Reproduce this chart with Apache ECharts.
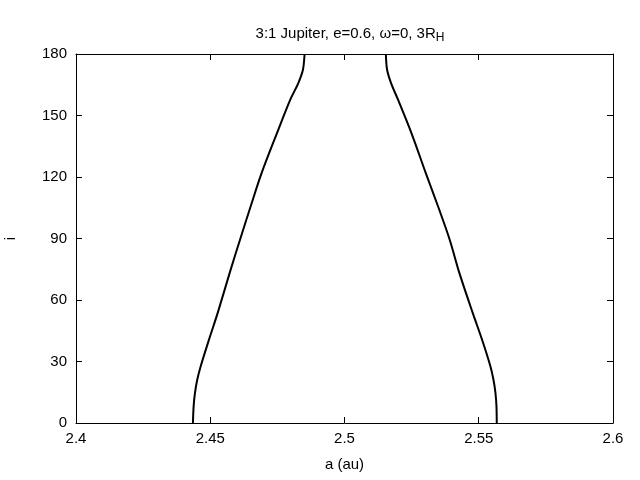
<!DOCTYPE html>
<html><head><meta charset="utf-8">
<script src="https://cdn.jsdelivr.net/npm/echarts@6/dist/echarts.min.js"></script>
<style>html,body{margin:0;padding:0;background:#fff}#c{width:640px;height:480px}</style>
</head><body><div id="c"></div>
<script>
const xTicks = [2.4, 2.45, 2.5, 2.55, 2.6];
const yTicks = [0, 30, 60, 90, 120, 150, 180];
const incl = [0, 8.1, 14.6, 21.1, 27.6, 40.6, 53.6, 73.1, 89.3, 105.6, 121.9, 141.3, 157.6, 165.7, 172.2, 180];
const aLeft = [2.44355, 2.44381, 2.44430, 2.44515, 2.44642, 2.44951, 2.45275, 2.45721, 2.46105, 2.46503, 2.46912, 2.47482, 2.47977, 2.48275, 2.48450, 2.48513];
const aRight = [2.55671, 2.55660, 2.55623, 2.55548, 2.55436, 2.55124, 2.54778, 2.54280, 2.53921, 2.53486, 2.53028, 2.52496, 2.51997, 2.51737, 2.51588, 2.51539];

const font = 'Liberation Sans, Arial, sans-serif';
const fs = 15;
const chart = echarts.init(document.getElementById('c'), null, {renderer: 'canvas'});
const axisCommon = {
  axisLine: {show: true, onZero: false, lineStyle: {color: '#000', width: 1}},
  axisTick: {show: true, inside: true, length: 6, lineStyle: {color: '#000'}},
  splitLine: {show: false}
};
chart.setOption({
  animation: false,
  backgroundColor: '#fff',
  title: {
    text: '{a|3:1 Jupiter, e=0.6, ω=0, 3R}{s|H}',
    left: 345, top: 18, textAlign: 'center',
    textStyle: {
      fontWeight: 'normal',
      rich: {
        a: {fontFamily: font, fontSize: fs, fontWeight: 'normal', color: '#000'},
        s: {fontFamily: font, fontSize: 12, fontWeight: 'normal', color: '#000', padding: [9, 0, 0, 0]}
      }
    }
  },
  grid: {left: 76, right: 27, top: 54, bottom: 57, containLabel: false, outerBoundsMode: 'none'},
  xAxis: [
    Object.assign({type: 'value', min: 2.4, max: 2.6, interval: 0.05, position: 'bottom',
      name: 'a (au)', nameLocation: 'middle', nameGap: 34,
      nameTextStyle: {fontFamily: font, fontSize: fs, color: '#000'},
      axisLabel: {fontFamily: font, fontSize: fs, color: '#000', margin: 8,
        formatter: v => { const t = xTicks.find(x => Math.abs(x - v) < 1e-9); return t === undefined ? '' : String(t); }}
    }, axisCommon),
    Object.assign({type: 'value', min: 2.4, max: 2.6, interval: 0.05, position: 'top', axisLabel: {show: false}}, axisCommon)
  ],
  yAxis: [
    Object.assign({type: 'value', min: 0, max: 180, interval: 30, position: 'left',
      name: 'i', nameLocation: 'middle', nameGap: 58, nameRotate: 90,
      nameTextStyle: {fontFamily: font, fontSize: fs, color: '#000'},
      axisLabel: {fontFamily: font, fontSize: fs, color: '#000', margin: 9,
        formatter: v => { const t = yTicks.find(x => Math.abs(x - v) < 1e-9); return t === undefined ? '' : String(t); }}
    }, axisCommon),
    Object.assign({type: 'value', min: 0, max: 180, interval: 30, position: 'right', axisLabel: {show: false}}, axisCommon)
  ],
  series: [
    {type: 'line', xAxisIndex: 0, yAxisIndex: 0, smooth: 0.3, showSymbol: false,
      lineStyle: {color: '#000', width: 2}, data: incl.map((v, k) => [aLeft[k], v])},
    {type: 'line', xAxisIndex: 0, yAxisIndex: 0, smooth: 0.3, showSymbol: false,
      lineStyle: {color: '#000', width: 2}, data: incl.map((v, k) => [aRight[k], v])}
  ]
});
</script></body></html>
